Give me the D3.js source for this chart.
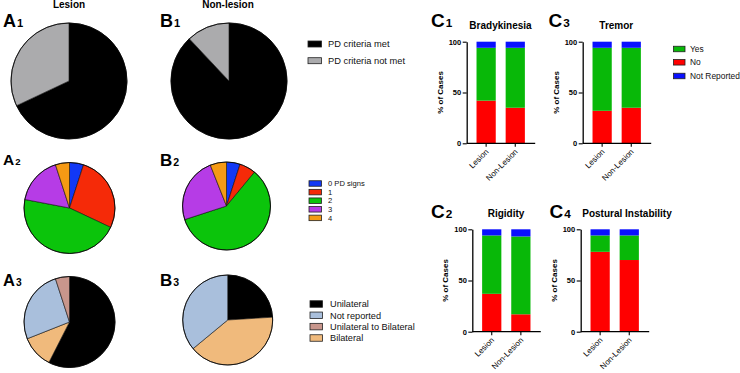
<!DOCTYPE html>
<html>
<head>
<meta charset="utf-8">
<script src="https://cdn.jsdelivr.net/npm/d3@7"></script>
<style>
  html, body { margin: 0; padding: 0; background: #fff; }
  svg { display: block; font-family: "Liberation Sans", Arial, Helvetica, sans-serif; }
</style>
</head>
<body>
<svg id="chart" width="740" height="373"></svg>
<script>
// ---------- DATA ----------
const pdCriteriaCats = ["PD criteria met", "PD criteria not met"];
const pdCriteriaLesion = [68, 32];
const pdCriteriaNonLesion = [88, 12];

const pdSignCats = ["0 PD signs", "1", "2", "3", "4"];
const pdSignsLesion = [5, 27, 46, 17, 5];
const pdSignsNonLesion = [5, 6, 59, 24, 6];

const lateralityCats = ["Unilateral", "Not reported", "Unilateral to Bilateral", "Bilateral"];
const lateralityLesion = [57.5, 26, 5, 11.5];
const lateralityNonLesion = [24, 36, 0, 40];
const lateralityPieOrder = ["Unilateral", "Bilateral", "Not reported", "Unilateral to Bilateral"];

const groups = ["Lesion", "Non-Lesion"];
const responseCats = ["No", "Yes", "Not Reported"];
const bradykinesiaNo = [42, 35], bradykinesiaYes = [52, 59], bradykinesiaNR = [6, 6];
const tremorNo = [32, 35], tremorYes = [62, 59], tremorNR = [6, 6];
const rigidityNo = [37, 17], rigidityYes = [57, 76], rigidityNR = [6, 7];
const posturalNo = [78, 70], posturalYes = [16, 24], posturalNR = [6, 6];
const yTicks = [0, 50, 100];

// ---------- STYLES ----------
const pdCriteriaColors = ["#000000", "#ababad"];
const pdSignColors = ["#1238f5", "#f52a08", "#0bc40b", "#b63ce6", "#f59a14"];
const lateralityColors = { "Unilateral": "#000000", "Not reported": "#a9bfdc", "Unilateral to Bilateral": "#c8968c", "Bilateral": "#f0ba7c" };
const responseColors = { "No": "#ff0000", "Yes": "#08b808", "Not Reported": "#0a10ff" };

const svg = d3.select("#chart");

// ---------- PIES ----------
function drawPie(cx, cy, r, cats, values, colorOf, order) {
  const items = (order || cats).map(c => ({ cat: c, value: values[cats.indexOf(c)] }));
  const pie = d3.pie().sort(null).value(d => d.value).startAngle(0).endAngle(2 * Math.PI);
  const arc = d3.arc().innerRadius(0).outerRadius(r);
  const g = svg.append("g").attr("transform", `translate(${cx},${cy})`);
  g.selectAll("path").data(pie(items).filter(d => d.data.value > 0)).join("path")
    .attr("d", arc)
    .attr("fill", d => colorOf(d.data.cat))
    .attr("stroke", "#111").attr("stroke-width", 0.6);
  g.append("circle").attr("r", r).attr("fill", "none").attr("stroke", "#000").attr("stroke-width", 0.8);
}

drawPie(69, 81, 58, pdCriteriaCats, pdCriteriaLesion, c => pdCriteriaColors[pdCriteriaCats.indexOf(c)]);
drawPie(229, 81, 58, pdCriteriaCats, pdCriteriaNonLesion, c => pdCriteriaColors[pdCriteriaCats.indexOf(c)]);
drawPie(69.5, 208, 45.5, pdSignCats, pdSignsLesion, c => pdSignColors[pdSignCats.indexOf(c)]);
drawPie(226.5, 206, 44, pdSignCats, pdSignsNonLesion, c => pdSignColors[pdSignCats.indexOf(c)]);
drawPie(69.5, 322, 45.5, lateralityCats, lateralityLesion, c => lateralityColors[c], lateralityPieOrder);
drawPie(227.7, 320, 45, lateralityCats, lateralityNonLesion, c => lateralityColors[c], lateralityPieOrder);

// column titles
svg.append("text").attr("x", 69).attr("y", 8).attr("text-anchor", "middle")
  .attr("font-size", 10).attr("font-weight", "bold").text("Lesion");
svg.append("text").attr("x", 228).attr("y", 8).attr("text-anchor", "middle")
  .attr("font-size", 10).attr("font-weight", "bold").text("Non-lesion");

// panel labels
function panelLabel(x, y, letter, sub, size) {
  const t = svg.append("text").attr("x", x).attr("y", y).attr("font-weight", "bold").attr("font-size", size);
  t.append("tspan").text(letter);
  t.append("tspan").attr("font-size", size * 0.62).attr("dx", 1).text(sub);
}
panelLabel(3, 26.5, "A", "1", 18);
panelLabel(160, 26.5, "B", "1", 18);
panelLabel(3, 165, "A", "2", 15.5);
panelLabel(160, 165.5, "B", "2", 17);
panelLabel(3, 286, "A", "3", 16.5);
panelLabel(160, 286, "B", "3", 17);
panelLabel(431, 26.7, "C", "1", 19);
panelLabel(548.5, 26.7, "C", "3", 19);
panelLabel(431, 218.3, "C", "2", 19);
panelLabel(549.5, 218.3, "C", "4", 19);

// legends
function legend(x, tx, ys, cats, colorOf, w, h, fs) {
  const g = svg.append("g");
  cats.forEach((c, i) => {
    g.append("rect").attr("x", x).attr("y", ys[i] - h / 2).attr("width", w).attr("height", h)
      .attr("fill", colorOf(c)).attr("stroke", "#222").attr("stroke-width", 0.8);
    g.append("text").attr("x", tx).attr("y", ys[i]).attr("dy", "0.35em")
      .attr("font-size", fs).attr("fill", "#111").text(c);
  });
}
legend(308, 328, [44, 60.7], pdCriteriaCats, c => pdCriteriaColors[pdCriteriaCats.indexOf(c)], 13.5, 6, 9.3);
legend(309, 328, [183.5, 192.1, 200.7, 209.3, 217.9], pdSignCats, c => pdSignColors[pdSignCats.indexOf(c)], 12.5, 5.5, 7.6);
legend(310, 330, [304, 315.3, 326.6, 338], lateralityCats, c => lateralityColors[c], 12.5, 6.5, 9.2);
legend(673.5, 690, [49, 62.3, 76], ["Yes", "No", "Not Reported"], c => responseColors[c], 11.5, 5.5, 8.4);

// ---------- BAR PANELS ----------
function barPanel(axisX, yTop, yBottom, title, titleX, titleY, no, yes, nr) {
  const y = d3.scaleLinear().domain([0, 100]).range([yBottom, yTop]);
  const x = d3.scaleBand().domain(groups).range([axisX + 4, axisX + 64]).paddingInner(0.34).paddingOuter(0.2);
  const g = svg.append("g");
  const stackData = groups.map((grp, i) => ({ group: grp, "No": no[i], "Yes": yes[i], "Not Reported": nr[i] }));
  const series = d3.stack().keys(responseCats)(stackData);
  series.forEach(s => {
    g.selectAll(null).data(s).join("rect")
      .attr("x", d => x(d.data.group))
      .attr("width", x.bandwidth())
      .attr("y", d => y(d[1]))
      .attr("height", d => y(d[0]) - y(d[1]))
      .attr("fill", responseColors[s.key]);
  });
  // y axis
  const ya = g.append("g").attr("transform", `translate(${axisX},0)`)
    .call(d3.axisLeft(y).tickValues(yTicks).tickSize(4).tickPadding(1.5).tickSizeOuter(0));
  ya.select(".domain").attr("stroke-width", 1.3);
  ya.selectAll(".tick line").attr("stroke-width", 1.1);
  ya.selectAll("text").attr("font-size", 7.5).attr("font-weight", "bold").attr("font-family", "Liberation Sans, Arial, sans-serif");
  // x axis
  const xa = g.append("g").attr("transform", `translate(0,${yBottom})`)
    .call(d3.axisBottom(x).tickSize(3.5).tickSizeOuter(0).tickPadding(2));
  xa.select(".domain").attr("d", `M${axisX},0H${axisX + 68.5}`).attr("stroke-width", 1.3);
  xa.selectAll(".tick line").attr("stroke-width", 1.1);
  xa.selectAll("text")
    .attr("font-size", 8).attr("font-family", "Liberation Sans, Arial, sans-serif")
    .attr("text-anchor", "end").attr("dy", 0)
    .attr("transform", "translate(3,9) rotate(-45)").attr("y", 0).attr("x", 0);
  // y label
  g.append("text").attr("transform", `translate(${axisX - 24},${(yTop + yBottom) / 2}) rotate(-90)`)
    .attr("text-anchor", "middle").attr("font-size", 8).attr("font-weight", "bold").text("% of Cases");
  // title
  g.append("text").attr("x", titleX).attr("y", titleY).attr("text-anchor", "middle")
    .attr("font-size", 10).attr("font-weight", "bold").text(title);
}
barPanel(466.7, 41.7, 143.3, "Bradykinesia", 500.5, 28.5, bradykinesiaNo, bradykinesiaYes, bradykinesiaNR);
barPanel(582.7, 41.7, 143.3, "Tremor", 616.3, 28.5, tremorNo, tremorYes, tremorNR);
barPanel(472.3, 229.3, 331.7, "Rigidity", 506, 217, rigidityNo, rigidityYes, rigidityNR);
barPanel(580.7, 229.3, 331.7, "Postural Instability", 627, 217, posturalNo, posturalYes, posturalNR);
</script>
</body>
</html>
